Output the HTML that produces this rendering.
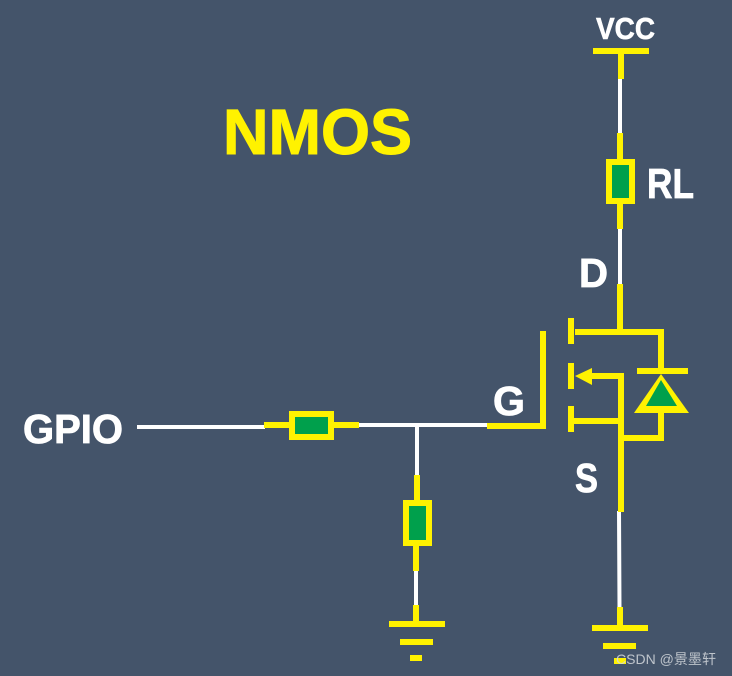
<!DOCTYPE html>
<html><head><meta charset="utf-8"><style>
html,body{margin:0;padding:0;background:#44546a;width:732px;height:676px;overflow:hidden}
svg{display:block}
text{font-family:"Liberation Sans","Noto Sans CJK SC",sans-serif;font-weight:bold;fill:#fff}
</style></head><body>
<svg width="732" height="676" viewBox="0 0 732 676" xmlns="http://www.w3.org/2000/svg">
<rect width="732" height="676" fill="#44546a"/>
<!-- white wires -->
<g stroke="#fff" stroke-width="4" fill="none">
<path d="M620 78V134M620 228V285"/>
<path d="M137 427H265M358 425H488"/>
<path d="M417 425V476M416 570V606M619 511L619.5 608"/>
</g>
<!-- yellow wires -->
<g stroke="#fff200" stroke-width="6" fill="none">
<path d="M593 51H649M621 51V79M620 133V160M620 203V229"/>
<path d="M620 284V332M575 332H661V372M637 371H688"/>
<path d="M571 318V344M571 363V389M571 406V432"/>
<path d="M592 376H621M621 373V512M574 421H621M621 438H661V410"/>
<path d="M543 331V429M487 426H546"/>
<path d="M264 425H290M333 425H359"/>
<path d="M417 475V501M416 545V571M416 605V624"/>
<path d="M389 624H445M400 642H433M410 658H422"/>
<path d="M620 607V628M592 628H648M603 646H636M614 661H626"/>
</g>
<polygon points="575,376 592,368 592,385" fill="#fff200"/>
<!-- resistors -->
<g fill="#00a04c" stroke="#fff200" stroke-width="6">
<rect x="609" y="162" width="23" height="39"/>
<rect x="292" y="414" width="39" height="23"/>
<rect x="406" y="503" width="23" height="40"/>
</g>
<!-- diode -->
<polygon points="661,374 689,413 634,413" fill="#fff200"/>
<polygon points="661,380 677,406 646,406" fill="#00a04c"/>
<!-- labels -->
<text x="223" y="154" font-size="64" textLength="189" lengthAdjust="spacingAndGlyphs" style="fill:#fff200;stroke:#fff200;stroke-width:1">NMOS</text>
<text x="596" y="39" font-size="31" textLength="59" lengthAdjust="spacingAndGlyphs" style="stroke:#fff;stroke-width:.6">VCC</text>
<text x="647" y="198" font-size="42" textLength="47" lengthAdjust="spacingAndGlyphs" style="stroke:#fff;stroke-width:.8">RL</text>
<text x="579" y="287" font-size="41" textLength="29" lengthAdjust="spacingAndGlyphs" style="stroke:#fff;stroke-width:.8">D</text>
<text x="493" y="415" font-size="41" textLength="32" lengthAdjust="spacingAndGlyphs" style="stroke:#fff;stroke-width:.8">G</text>
<text x="575" y="492" font-size="41" textLength="23" lengthAdjust="spacingAndGlyphs" style="stroke:#fff;stroke-width:.8">S</text>
<text x="23" y="443" font-size="41" textLength="100" lengthAdjust="spacingAndGlyphs" style="stroke:#fff;stroke-width:.8">GPIO</text>
<text x="616" y="664" font-size="14" textLength="100" lengthAdjust="spacingAndGlyphs" style="font-weight:normal;fill:#d4d8dd;opacity:.85">CSDN @景墨轩</text>
</svg>
</body></html>
